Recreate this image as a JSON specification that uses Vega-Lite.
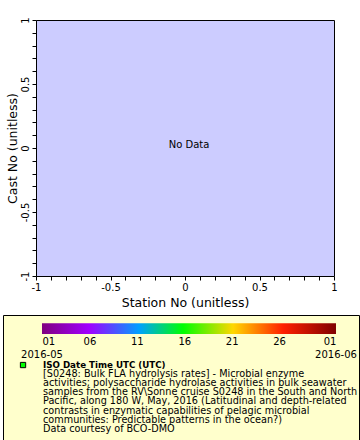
{
  "$schema": "https://vega.github.io/schema/vega-lite/v6.json",
  "padding": {"left": 2, "top": 16, "right": 0, "bottom": 0},
  "background": "white",
  "config": {
    "font": "DejaVu Sans",
    "axis": {"labelFont": "DejaVu Sans", "titleFont": "DejaVu Sans", "labelColor": "black", "titleColor": "black", "tickColor": "black", "domainColor": "black", "titleFontWeight": "normal", "grid": false}
  },
  "spacing": 5,
  "vconcat": [
    {
      "spacing": 0,
      "hconcat": [
        {"width": 1, "height": 1, "data": {"values": []}, "mark": "point", "view": {"stroke": "transparent"}},
        {
          "width": 298, "height": 256,
          "view": {"fill": "#ccccff", "stroke": "black", "strokeWidth": 1},
          "data": {"values": [{"x": 0, "y": 0, "label": "No Data"}]},
          "mark": {"type": "text", "fontSize": 10, "dx": 4, "baseline": "alphabetic", "align": "center", "color": "black"},
          "encoding": {
            "x": {"field": "x", "type": "quantitative", "scale": {"domain": [-1, 1], "nice": false, "zero": false},
              "axis": {"title": "Station No (unitless)", "values": [-1,-0.9,-0.8,-0.7,-0.6,-0.5,-0.4,-0.3,-0.2,-0.1,0,0.1,0.2,0.3,0.4,0.5,0.6,0.7,0.8,0.9,1],
                "labelExpr": "abs(datum.value*2 - round(datum.value*2)) < 0.001 ? datum.value + '' : ''",
                "tickSize": 4, "labelPadding": 2, "titleFontSize": 12.5, "labelFontSize": 10, "titlePadding": 4, "domain": false, "labelFlush": false, "labelOverlap": false}},
            "y": {"field": "y", "type": "quantitative", "scale": {"domain": [-1, 1], "nice": false, "zero": false},
              "axis": {"title": "Cast No (unitless)", "values": [-1,-0.9,-0.8,-0.7,-0.6,-0.5,-0.4,-0.3,-0.2,-0.1,0,0.1,0.2,0.3,0.4,0.5,0.6,0.7,0.8,0.9,1],
                "labelExpr": "abs(datum.value*2 - round(datum.value*2)) < 0.001 ? datum.value + '' : ''",
                "labelAngle": -90, "tickSize": 4, "labelPadding": 2, "titleFontSize": 12.5, "labelFontSize": 10, "titlePadding": 1, "domain": false, "labelFlush": false, "labelOverlap": false}},
            "text": {"field": "label"}
          }
        }
      ]
    },
    {
      "width": 356, "height": 125,
      "view": {"fill": "#ffffcc", "stroke": "black", "strokeWidth": 1},
      "layer": [
        {
          "data": {"values": [{"start": "2016-05-01", "end": "2016-06-01"}]},
          "mark": {"type": "rect", "fill": {"gradient": "linear", "x1": 0, "x2": 1, "y1": 0, "y2": 0, "stops": [
            {"offset": 0, "color": "#800080"},
            {"offset": 0.16, "color": "#a000ff"},
            {"offset": 0.33, "color": "#00a0ff"},
            {"offset": 0.48, "color": "#00ff00"},
            {"offset": 0.65, "color": "#ffd700"},
            {"offset": 0.82, "color": "#ff2000"},
            {"offset": 1, "color": "#800000"}]}},
          "encoding": {
            "x": {"field": "start", "type": "temporal",
              "scale": {"type": "utc", "nice": false, "domain": [{"year": 2016, "month": 4, "date": 26, "hours": 21, "minutes": 18, "utc": true}, {"year": 2016, "month": 6, "date": 3, "hours": 10, "minutes": 13, "utc": true}]},
              "axis": {"orient": "bottom", "offset": -106, "title": null, "domain": false, "ticks": false, "labelPadding": 2, "labelFontSize": 10, "labelFlush": 40, "labelOverlap": false,
                "values": [{"year": 2016, "month": 5, "date": 1, "utc": true}, {"year": 2016, "month": 5, "date": 6, "utc": true}, {"year": 2016, "month": 5, "date": 11, "utc": true}, {"year": 2016, "month": 5, "date": 16, "utc": true}, {"year": 2016, "month": 5, "date": 21, "utc": true}, {"year": 2016, "month": 5, "date": 26, "utc": true}, {"year": 2016, "month": 6, "date": 1, "utc": true}],
                "labelExpr": "utcFormat(datum.value, '%d')"}},
            "x2": {"field": "end"},
            "y": {"datum": -4.6, "type": "quantitative", "scale": {"domain": [-5.5, 8.24], "reverse": true, "nice": false, "zero": false}, "axis": null},
            "y2": {"datum": -3.4}
          }
        },
        {
          "data": {"values": [{"date": "2016-05-01", "label": "2016-05"}, {"date": "2016-06-01", "label": "2016-06"}]},
          "mark": {"type": "text", "fontSize": 10, "align": "center", "baseline": "middle", "color": "black"},
          "encoding": {
            "x": {"field": "date", "type": "temporal"},
            "y": {"datum": -1.13, "type": "quantitative"},
            "text": {"field": "label"}
          }
        },
        {
          "data": {"values": [{"name": "ISO Date Time UTC"}]},
          "mark": {"type": "point", "shape": "square", "filled": true, "fill": "#00ff00", "stroke": "black", "strokeWidth": 1, "size": 28, "opacity": 1},
          "encoding": {
            "x": {"datum": {"year": 2016, "month": 4, "date": 29, "utc": true}, "type": "temporal"},
            "y": {"datum": 0, "type": "quantitative"}
          }
        },
        {
          "data": {"values": [{"t": "ISO Date Time UTC (UTC)"}]},
          "mark": {"type": "text", "fontSize": 8.7, "fontWeight": "bold", "align": "left", "baseline": "middle", "dx": 1, "color": "black"},
          "encoding": {
            "x": {"datum": {"year": 2016, "month": 5, "date": 1, "utc": true}, "type": "temporal"},
            "y": {"datum": 0, "type": "quantitative"},
            "text": {"field": "t"}
          }
        },
        {
          "data": {"values": [
            {"line": 1, "text": "[S0248: Bulk FLA hydrolysis rates] - Microbial enzyme"},
            {"line": 2, "text": "activities; polysaccharide hydrolase activities in bulk seawater"},
            {"line": 3, "text": "samples from the RV\\Sonne cruise S0248 in the South and North"},
            {"line": 4, "text": "Pacific, along 180 W, May, 2016 (Latitudinal and depth-related"},
            {"line": 5, "text": "contrasts in enzymatic capabilities of pelagic microbial"},
            {"line": 6, "text": "communities: Predictable patterns in the ocean?)"},
            {"line": 7, "text": "Data courtesy of BCO-DMO"}
          ]},
          "mark": {"type": "text", "fontSize": 9.7, "align": "left", "baseline": "middle", "dx": 1, "color": "black"},
          "encoding": {
            "x": {"datum": {"year": 2016, "month": 5, "date": 1, "utc": true}, "type": "temporal"},
            "y": {"field": "line", "type": "quantitative"},
            "text": {"field": "text"}
          }
        }
      ]
    }
  ]
}
